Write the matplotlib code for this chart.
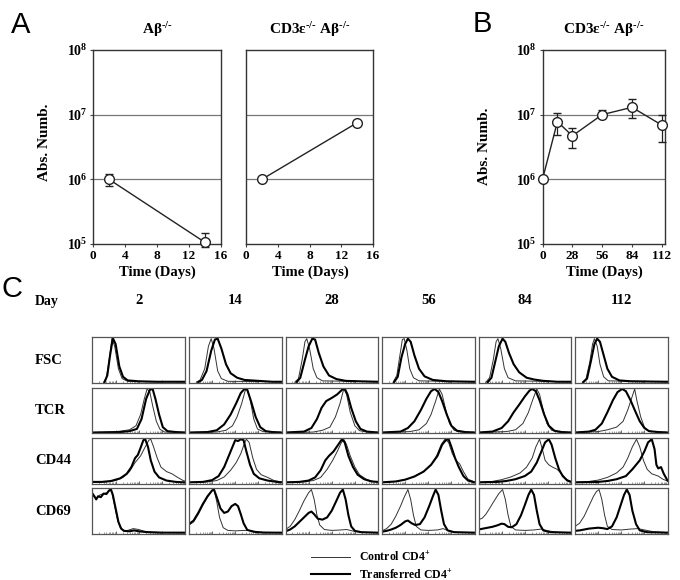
import numpy as np
import matplotlib
matplotlib.use('agg')
import matplotlib.pyplot as plt

plt.rcParams['font.family'] = ['Liberation Serif', 'DejaVu Serif']
plt.rcParams['font.weight'] = 'bold'
plt.rcParams['mathtext.fontset'] = 'custom'
plt.rcParams['mathtext.rm'] = 'Liberation Serif:bold'
plt.rcParams['mathtext.bf'] = 'Liberation Serif:bold'
plt.rcParams['mathtext.it'] = 'Liberation Serif:bold:italic'
plt.rcParams['mathtext.default'] = 'rm'

W, H = 680, 580

# ---- panel A / B data (absolute numbers) ----
a1_days = [2, 14]
a1_vals = [1.0e6, 1.06e5]
a1_lo = [7.9e5, 9.0e4]
a1_hi = [1.2e6, 1.46e5]

a2_days = [2, 14]
a2_vals = [1.0e6, 7.5e6]
a2_lo = [1.0e6, 7.0e6]
a2_hi = [1.0e6, 8.0e6]

b_days = [0, 14, 28, 56, 84, 112]
b_vals = [1.0e6, 7.8e6, 4.7e6, 1.0e7, 1.3e7, 6.9e6]
b_lo = [1.0e6, 4.9e6, 3.0e6, 8.8e6, 9.0e6, 3.8e6]
b_hi = [1.0e6, 1.05e7, 6.2e6, 1.2e7, 1.74e7, 1.0e7]

yticks = [1e5, 1e6, 1e7, 1e8]
ytick_labels = ['10$^{5}$', '10$^{6}$', '10$^{7}$', '10$^{8}$']

KO = r'$^{\text{-/-}}$'

# ---- panel C: histogram outlines, (x, y) normalised ----
hist_days = ['2', '14', '28', '56', '84', '112']
markers = ['FSC', 'TCR', 'CD44', 'CD69']

fsc_thin = [
    [(0.12,0),(0.15,0.1),(0.18,0.5),(0.21,0.97),(0.24,0.8),(0.28,0.3),(0.32,0.08),(0.38,0.02),(0.6,0.01),(1,0.01)],
    [(0.08,0),(0.12,0.05),(0.17,0.3),(0.21,0.8),(0.24,0.97),(0.27,0.75),(0.31,0.25),(0.35,0.08),(0.42,0.02),(1,0.01)],
    [(0.1,0),(0.14,0.08),(0.18,0.5),(0.21,0.9),(0.23,0.97),(0.26,0.75),(0.30,0.3),(0.34,0.1),(0.40,0.03),(1,0.01)],
    [(0.12,0),(0.16,0.15),(0.19,0.55),(0.22,0.95),(0.24,0.97),(0.27,0.7),(0.30,0.3),(0.34,0.1),(0.4,0.03),(1,0.01)],
    [(0.08,0),(0.12,0.1),(0.16,0.5),(0.19,0.9),(0.21,0.97),(0.24,0.75),(0.28,0.3),(0.32,0.1),(0.4,0.03),(1,0.01)],
    [(0.08,0),(0.12,0.08),(0.16,0.45),(0.19,0.85),(0.21,0.97),(0.24,0.8),(0.27,0.4),(0.31,0.12),(0.36,0.03),(1,0.01)],
]
fsc_thick = [
    [(0.13,0),(0.16,0.15),(0.19,0.6),(0.22,0.98),(0.25,0.85),(0.29,0.35),(0.33,0.12),(0.38,0.04),(0.5,0.02),(0.7,0.01),(1,0.01)],
    [(0.1,0),(0.14,0.05),(0.19,0.25),(0.24,0.7),(0.28,0.95),(0.31,0.97),(0.35,0.75),(0.40,0.4),(0.45,0.2),(0.52,0.1),(0.6,0.05),(0.75,0.03),(0.9,0.01),(1,0.01)],
    [(0.12,0),(0.16,0.1),(0.21,0.5),(0.25,0.8),(0.29,0.97),(0.32,0.95),(0.36,0.65),(0.41,0.35),(0.47,0.15),(0.55,0.07),(0.65,0.03),(0.8,0.02),(1,0.01)],
    [(0.13,0),(0.17,0.12),(0.21,0.55),(0.25,0.85),(0.28,0.97),(0.31,0.9),(0.35,0.6),(0.40,0.3),(0.46,0.13),(0.55,0.05),(0.7,0.02),(1,0.01)],
    [(0.1,0),(0.14,0.1),(0.18,0.45),(0.22,0.8),(0.26,0.97),(0.29,0.9),(0.33,0.65),(0.38,0.4),(0.44,0.22),(0.52,0.1),(0.6,0.06),(0.7,0.03),(0.85,0.01),(1,0.01)],
    [(0.09,0),(0.13,0.08),(0.17,0.45),(0.21,0.85),(0.24,0.97),(0.27,0.9),(0.31,0.6),(0.35,0.3),(0.40,0.12),(0.48,0.04),(0.6,0.02),(1,0.01)],
]

tcr_thin = [
    [(0,0),(0.2,0.01),(0.3,0.03),(0.4,0.06),(0.47,0.15),(0.52,0.4),(0.56,0.75),(0.59,0.97),(0.62,0.9),(0.65,0.6),(0.69,0.25),(0.73,0.07),(0.78,0.01),(1,0)],
    [(0,0),(0.3,0.01),(0.4,0.05),(0.47,0.15),(0.52,0.35),(0.57,0.65),(0.61,0.95),(0.63,0.97),(0.66,0.75),(0.70,0.3),(0.74,0.08),(0.8,0.02),(1,0)],
    [(0,0),(0.3,0.01),(0.4,0.05),(0.48,0.12),(0.54,0.35),(0.59,0.65),(0.63,0.97),(0.66,0.85),(0.70,0.45),(0.75,0.15),(0.8,0.04),(0.88,0.01),(1,0)],
    [(0,0),(0.3,0.02),(0.4,0.06),(0.48,0.2),(0.53,0.4),(0.58,0.7),(0.62,0.97),(0.65,0.85),(0.69,0.5),(0.73,0.2),(0.78,0.05),(0.85,0.01),(1,0)],
    [(0,0),(0.3,0.02),(0.4,0.06),(0.48,0.2),(0.54,0.45),(0.59,0.75),(0.63,0.97),(0.66,0.85),(0.7,0.5),(0.74,0.2),(0.79,0.05),(0.86,0.01),(1,0)],
    [(0,0),(0.25,0.02),(0.35,0.06),(0.45,0.12),(0.52,0.25),(0.57,0.5),(0.61,0.75),(0.645,0.97),(0.67,0.7),(0.71,0.35),(0.75,0.12),(0.8,0.03),(0.9,0.01),(1,0)],
]
tcr_thick = [
    [(0,0),(0.3,0.01),(0.4,0.03),(0.48,0.08),(0.53,0.3),(0.58,0.75),(0.62,0.95),(0.65,0.97),(0.68,0.75),(0.72,0.4),(0.76,0.12),(0.81,0.03),(0.9,0.01),(1,0)],
    [(0,0),(0.2,0.01),(0.3,0.05),(0.38,0.18),(0.45,0.4),(0.51,0.65),(0.56,0.88),(0.60,0.97),(0.63,0.95),(0.67,0.7),(0.72,0.35),(0.77,0.12),(0.83,0.03),(0.9,0.01),(1,0)],
    [(0,0),(0.2,0.02),(0.28,0.1),(0.34,0.3),(0.39,0.55),(0.44,0.7),(0.5,0.77),(0.56,0.85),(0.61,0.95),(0.64,0.98),(0.67,0.85),(0.71,0.55),(0.76,0.25),(0.81,0.08),(0.88,0.02),(1,0)],
    [(0,0),(0.2,0.02),(0.28,0.1),(0.35,0.25),(0.42,0.5),(0.48,0.75),(0.53,0.92),(0.57,0.97),(0.61,0.9),(0.65,0.7),(0.70,0.4),(0.75,0.15),(0.81,0.04),(0.9,0.01),(1,0)],
    [(0,0),(0.15,0.02),(0.25,0.1),(0.32,0.25),(0.38,0.45),(0.44,0.62),(0.5,0.8),(0.55,0.93),(0.58,0.97),(0.62,0.92),(0.66,0.72),(0.71,0.4),(0.76,0.15),(0.82,0.04),(0.9,0.01),(1,0)],
    [(0,0),(0.15,0.02),(0.22,0.06),(0.29,0.2),(0.35,0.45),(0.41,0.72),(0.46,0.9),(0.51,0.97),(0.55,0.92),(0.6,0.72),(0.65,0.48),(0.70,0.25),(0.75,0.1),(0.8,0.03),(0.9,0.01),(1,0)],
]

cd44_thin = [
    [(0,0.01),(0.15,0.02),(0.25,0.05),(0.33,0.12),(0.4,0.25),(0.46,0.45),(0.52,0.6),(0.57,0.8),(0.61,0.95),(0.63,0.97),(0.66,0.8),(0.7,0.55),(0.74,0.35),(0.8,0.25),(0.86,0.2),(0.92,0.12),(0.98,0.05),(1,0.04)],
    [(0,0.01),(0.2,0.02),(0.3,0.05),(0.38,0.13),(0.45,0.28),(0.51,0.45),(0.56,0.65),(0.6,0.88),(0.62,0.97),(0.65,0.9),(0.69,0.55),(0.73,0.3),(0.78,0.18),(0.85,0.12),(0.92,0.05),(1,0.02)],
    [(0,0.01),(0.2,0.02),(0.3,0.05),(0.38,0.12),(0.45,0.3),(0.51,0.5),(0.56,0.7),(0.6,0.88),(0.63,0.97),(0.66,0.85),(0.7,0.6),(0.75,0.35),(0.8,0.18),(0.88,0.07),(0.95,0.03),(1,0.02)],
    [(0,0.01),(0.15,0.03),(0.25,0.07),(0.35,0.14),(0.45,0.25),(0.53,0.4),(0.59,0.6),(0.64,0.85),(0.68,0.97),(0.72,0.9),(0.76,0.65),(0.8,0.5),(0.84,0.42),(0.88,0.25),(0.93,0.08),(1,0.02)],
    [(0,0.01),(0.15,0.03),(0.25,0.07),(0.35,0.13),(0.45,0.22),(0.52,0.35),(0.58,0.55),(0.62,0.8),(0.66,0.97),(0.69,0.75),(0.72,0.5),(0.76,0.4),(0.8,0.35),(0.85,0.3),(0.9,0.2),(0.95,0.08),(1,0.03)],
    [(0,0.01),(0.15,0.03),(0.25,0.06),(0.35,0.12),(0.45,0.22),(0.52,0.35),(0.57,0.55),(0.62,0.8),(0.665,0.97),(0.7,0.8),(0.74,0.5),(0.78,0.3),(0.83,0.2),(0.9,0.15),(0.95,0.08),(1,0.04)],
]
cd44_thick = [
    [(0,0.02),(0.1,0.02),(0.2,0.04),(0.3,0.1),(0.37,0.2),(0.42,0.35),(0.46,0.55),(0.49,0.62),(0.52,0.78),(0.55,0.95),(0.57,0.97),(0.6,0.8),(0.63,0.5),(0.67,0.25),(0.72,0.12),(0.8,0.05),(0.9,0.02),(1,0.01)],
    [(0,0.01),(0.15,0.02),(0.25,0.06),(0.32,0.15),(0.38,0.35),(0.43,0.6),(0.47,0.8),(0.5,0.95),(0.53,0.93),(0.56,0.97),(0.59,0.95),(0.62,0.7),(0.66,0.4),(0.7,0.2),(0.76,0.1),(0.85,0.05),(0.95,0.02),(1,0.01)],
    [(0,0.01),(0.15,0.02),(0.25,0.05),(0.32,0.12),(0.38,0.28),(0.43,0.5),(0.47,0.6),(0.52,0.7),(0.57,0.85),(0.61,0.97),(0.64,0.9),(0.68,0.6),(0.73,0.35),(0.78,0.18),(0.85,0.08),(0.93,0.03),(1,0.02)],
    [(0,0.01),(0.15,0.03),(0.25,0.07),(0.35,0.14),(0.45,0.25),(0.53,0.4),(0.6,0.6),(0.65,0.85),(0.69,0.95),(0.72,0.97),(0.75,0.8),(0.79,0.55),(0.83,0.35),(0.88,0.15),(0.93,0.05),(1,0.01)],
    [(0,0.01),(0.2,0.02),(0.3,0.04),(0.4,0.08),(0.5,0.15),(0.57,0.25),(0.63,0.45),(0.68,0.7),(0.72,0.9),(0.76,0.97),(0.79,0.85),(0.83,0.55),(0.87,0.3),(0.91,0.15),(0.96,0.05),(1,0.02)],
    [(0,0.01),(0.25,0.02),(0.35,0.04),(0.45,0.08),(0.55,0.15),(0.62,0.3),(0.7,0.5),(0.75,0.7),(0.79,0.9),(0.83,0.97),(0.86,0.75),(0.88,0.4),(0.9,0.32),(0.93,0.35),(0.96,0.2),(1,0.05)],
]

cd69_thin = [
    [(0,0.85),(0.02,0.8),(0.05,0.78),(0.08,0.85),(0.12,0.88),(0.16,0.9),(0.19,0.97),(0.21,0.9),(0.24,0.6),(0.27,0.3),(0.3,0.12),(0.34,0.05),(0.38,0.06),(0.44,0.1),(0.5,0.08),(0.56,0.04),(0.65,0.02),(0.8,0.01),(1,0.01)],
    [(0,0.18),(0.05,0.25),(0.1,0.42),(0.15,0.62),(0.2,0.8),(0.25,0.95),(0.27,0.97),(0.3,0.7),(0.33,0.35),(0.37,0.12),(0.42,0.06),(0.5,0.05),(0.6,0.06),(0.67,0.06),(0.72,0.03),(0.8,0.02),(1,0.01)],
    [(0,0.08),(0.05,0.15),(0.1,0.3),(0.15,0.5),(0.2,0.72),(0.25,0.9),(0.28,0.97),(0.31,0.75),(0.34,0.4),(0.37,0.18),(0.42,0.08),(0.5,0.06),(0.6,0.07),(0.66,0.08),(0.72,0.05),(0.8,0.02),(1,0.01)],
    [(0,0.05),(0.05,0.1),(0.1,0.2),(0.15,0.38),(0.2,0.6),(0.24,0.8),(0.28,0.97),(0.31,0.75),(0.34,0.4),(0.37,0.15),(0.42,0.07),(0.5,0.06),(0.6,0.07),(0.66,0.1),(0.72,0.05),(0.8,0.02),(1,0.01)],
    [(0,0.3),(0.04,0.33),(0.08,0.42),(0.12,0.55),(0.17,0.72),(0.22,0.88),(0.26,0.97),(0.29,0.75),(0.32,0.4),(0.35,0.15),(0.4,0.07),(0.5,0.06),(0.6,0.07),(0.68,0.09),(0.75,0.05),(0.85,0.02),(1,0.01)],
    [(0,0.15),(0.05,0.22),(0.1,0.38),(0.15,0.6),(0.2,0.82),(0.23,0.92),(0.26,0.97),(0.29,0.75),(0.32,0.4),(0.35,0.15),(0.4,0.08),(0.5,0.07),(0.6,0.09),(0.68,0.1),(0.75,0.07),(0.85,0.03),(1,0.01)],
]
cd69_thick = [
    [(0,0.88),(0.02,0.82),(0.04,0.75),(0.06,0.82),(0.09,0.8),(0.12,0.88),(0.15,0.87),(0.18,0.95),(0.2,0.97),(0.22,0.85),(0.25,0.55),(0.28,0.25),(0.31,0.1),(0.34,0.05),(0.4,0.04),(0.45,0.06),(0.5,0.04),(0.6,0.02),(0.75,0.01),(1,0.01)],
    [(0,0.2),(0.05,0.28),(0.1,0.45),(0.15,0.65),(0.2,0.82),(0.25,0.95),(0.27,0.97),(0.3,0.8),(0.34,0.55),(0.38,0.45),(0.42,0.48),(0.46,0.6),(0.5,0.65),(0.53,0.6),(0.56,0.42),(0.59,0.22),(0.63,0.07),(0.7,0.03),(0.8,0.01),(1,0.01)],
    [(0,0.04),(0.05,0.08),(0.1,0.15),(0.15,0.25),(0.2,0.35),(0.25,0.45),(0.28,0.48),(0.31,0.42),(0.35,0.32),(0.4,0.3),(0.45,0.35),(0.5,0.5),(0.55,0.72),(0.59,0.9),(0.62,0.97),(0.65,0.75),(0.68,0.4),(0.71,0.15),(0.75,0.05),(0.82,0.02),(1,0.01)],
    [(0,0.03),(0.05,0.05),(0.1,0.08),(0.15,0.12),(0.2,0.18),(0.25,0.26),(0.28,0.28),(0.32,0.22),(0.36,0.18),(0.41,0.2),(0.46,0.35),(0.51,0.6),(0.55,0.82),(0.58,0.97),(0.61,0.85),(0.64,0.5),(0.67,0.2),(0.71,0.06),(0.78,0.02),(1,0.01)],
    [(0,0.08),(0.05,0.1),(0.1,0.12),(0.15,0.14),(0.2,0.17),(0.25,0.21),(0.28,0.2),(0.32,0.14),(0.36,0.13),(0.41,0.2),(0.46,0.4),(0.5,0.62),(0.54,0.85),(0.57,0.97),(0.6,0.85),(0.63,0.5),(0.66,0.2),(0.7,0.06),(0.78,0.02),(1,0.01)],
    [(0,0.05),(0.05,0.06),(0.1,0.08),(0.15,0.1),(0.2,0.11),(0.25,0.12),(0.3,0.11),(0.35,0.09),(0.4,0.15),(0.45,0.35),(0.49,0.6),(0.53,0.85),(0.56,0.97),(0.59,0.85),(0.62,0.5),(0.66,0.2),(0.7,0.06),(0.78,0.02),(1,0.01)],
]

thin_rows = [fsc_thin, tcr_thin, cd44_thin, cd69_thin]
thick_rows = [fsc_thick, tcr_thick, cd44_thick, cd69_thick]


def box(left, top, right, bottom):
    # pixel box -> figure fraction rect
    return [left / W, 1 - bottom / H, (right - left) / W, (bottom - top) / H]


def fig_text(x, y, s, **kw):
    fig.text(x / W, 1 - y / H, s, **kw)


def abs_panel(ax, days, vals, lo, hi, xlim, xticks):
    yerr = [np.array(vals) - np.array(lo), np.array(hi) - np.array(vals)]
    ax.set_yscale('log')
    ax.set_ylim(1e5, 1e8)
    ax.set_xlim(*xlim)
    for g in [1e6, 1e7]:
        ax.axhline(g, color='#777777', lw=0.9, zorder=1)
    ax.errorbar(days, vals, yerr=yerr, fmt='-o', color='#222222', lw=1.0,
                ms=7, mfc='white', mec='#222222', mew=1.0, ecolor='#222222',
                elinewidth=0.9, capsize=3, capthick=0.9, clip_on=False, zorder=3)
    ax.set_yticks(yticks)
    ax.set_yticklabels(ytick_labels, fontsize=10, fontweight='bold')
    ax.yaxis.set_minor_locator(plt.NullLocator())
    ax.set_xticks(xticks)
    ax.set_xticklabels([str(t) for t in xticks], fontsize=9.5, fontweight='bold')
    ax.tick_params(length=2, width=0.8, pad=2, color='#444444')
    for sp in ax.spines.values():
        sp.set_color('#333333')
        sp.set_linewidth(1.0)


fig = plt.figure(figsize=(W / 100, H / 100), dpi=100)

ax_a1 = fig.add_axes(box(93, 50, 221, 244))
abs_panel(ax_a1, a1_days, a1_vals, a1_lo, a1_hi, (0, 16), [0, 4, 8, 12, 16])
ax_a2 = fig.add_axes(box(246, 50, 373, 244))
abs_panel(ax_a2, a2_days, a2_vals, a2_lo, a2_hi, (0, 16), [0, 4, 8, 12, 16])
ax_a2.set_yticklabels([])
ax_a2.tick_params(axis='y', length=0)
ax_b = fig.add_axes(box(542.5, 50, 665, 244))
abs_panel(ax_b, b_days, b_vals, b_lo, b_hi, (0, 115), [0, 28, 56, 84, 112])

# titles / labels
fig_text(157, 30, 'Aβ' + KO, ha='center', va='center', fontsize=11)
fig_text(310, 30, 'CD3ε' + KO + ' Aβ' + KO, ha='center', va='center', fontsize=11)
fig_text(604, 30, 'CD3ε' + KO + ' Aβ' + KO, ha='center', va='center', fontsize=11)
for xc in [157, 310, 604]:
    fig_text(xc, 272, 'Time (Days)', ha='center', va='center', fontsize=10.5)
fig_text(45, 142, 'Abs. Numb.', ha='center', va='center', rotation=90, fontsize=11)
fig_text(484, 146, 'Abs. Numb.', ha='center', va='center', rotation=90, fontsize=11)

sans = ['Liberation Sans', 'DejaVu Sans']
fig_text(21, 25, 'A', ha='center', va='center', fontsize=21, fontweight='normal', family=sans)
fig_text(482, 24, 'B', ha='center', va='center', fontsize=21, fontweight='normal', family=sans)
fig_text(12, 289, 'C', ha='center', va='center', fontsize=21, fontweight='normal', family=sans)

# ---- panel C grid ----
col_left0, col_pitch, col_w = 92.5, 96.5, 92.5
row_top0, row_pitch, row_h = 337.3, 50.3, 45.8

fig_text(35, 301, 'Day', ha='left', va='center', fontsize=10)
for j, d in enumerate(hist_days):
    fig_text(col_left0 + j * col_pitch + col_w / 2, 301, d, ha='center', va='center', fontsize=10.5)
for i, m in enumerate(markers):
    fig_text(35, row_top0 + i * row_pitch + row_h / 2, m, ha='left', va='center', fontsize=10.5)

# decade-style tick marks along the bottom of each histogram
minor_pos = np.concatenate([(k + np.log10(np.arange(2, 10))) / 4 for k in range(4)])
major_pos = [0, 0.25, 0.5, 0.75, 1.0]

for i in range(4):
    for j in range(6):
        l = col_left0 + j * col_pitch
        t = row_top0 + i * row_pitch
        ax = fig.add_axes(box(l, t, l + col_w, t + row_h))
        th = thin_rows[i][j]
        tk = thick_rows[i][j]
        l1, = ax.plot([p[0] for p in th], [p[1] for p in th], color='#333333', lw=0.7)
        l2, = ax.plot([p[0] for p in tk], [p[1] for p in tk], color='black', lw=1.5)
        ax.set_xlim(0, 1)
        ax.set_ylim(-0.02, 1.0)
        ax.set_xticks(major_pos)
        ax.set_xticks(minor_pos, minor=True)
        ax.set_xticklabels([])
        ax.set_yticks([])
        ax.tick_params(axis='x', which='major', direction='in', length=2.5, width=0.6, color='#555555')
        ax.tick_params(axis='x', which='minor', direction='in', length=1.3, width=0.5, color='#777777')
        for sp in ax.spines.values():
            sp.set_color('#555555')
            sp.set_linewidth(0.9)

fig.legend([l1, l2], ['Control CD4$^{+}$', 'Transferred CD4$^{+}$'],
           loc='upper left', bbox_to_anchor=(311 / W, 1 - 551 / H), frameon=False,
           fontsize=8.5, handlelength=3.3, handletextpad=0.8, labelspacing=0.35,
           borderpad=0, borderaxespad=0)

fig.savefig('out.png', dpi=100)
